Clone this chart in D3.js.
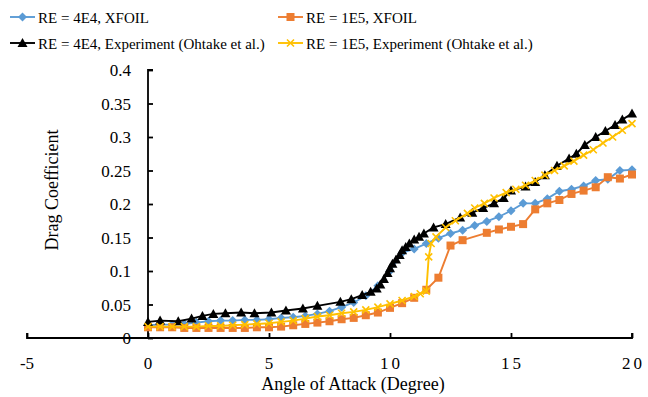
<!DOCTYPE html>
<html>
<head>
<meta charset="utf-8">
<script src="https://cdn.jsdelivr.net/npm/d3@7/dist/d3.min.js"></script>
<style>
  body { margin: 0; background: #fff; }
</style>
</head>
<body>
<div id="chart"></div>
<script>
const WIDTH = 648;
const HEIGHT = 397;
const FONT = '"Liberation Serif"';

// RE = 4E4, XFOIL
const xfoil4Alpha = [0, 0.5, 1, 1.5, 2, 2.5, 3, 3.5, 4, 4.5, 5, 5.5, 6, 6.5, 7, 7.5, 8, 8.5, 9, 9.5,
  10, 10.5, 11, 11.5, 12, 12.5, 13, 13.5, 14, 14.5, 15, 15.5, 16, 16.5, 17, 17.5, 18, 18.5, 19, 19.5, 20];
const xfoil4Cd = [0.019, 0.020, 0.020, 0.021, 0.023, 0.025, 0.026, 0.026, 0.027, 0.027, 0.028, 0.030,
  0.031, 0.033, 0.036, 0.040, 0.046, 0.053, 0.063, 0.078, 0.100, 0.127, 0.133, 0.141, 0.149, 0.156,
  0.161, 0.168, 0.174, 0.181, 0.190, 0.201, 0.201, 0.208, 0.219, 0.222, 0.227, 0.235, 0.237, 0.250, 0.251];

// RE = 1E5, XFOIL (no point at 13.5)
const xfoil1Alpha = [0, 0.5, 1, 1.5, 2, 2.5, 3, 3.5, 4, 4.5, 5, 5.5, 6, 6.5, 7, 7.5, 8, 8.5, 9, 9.5,
  10, 10.5, 11, 11.5, 12, 12.5, 13, 14, 14.5, 15, 15.5, 16, 16.5, 17, 17.5, 18, 18.5, 19, 19.5, 20];
const xfoil1Cd = [0.016, 0.016, 0.016, 0.015, 0.015, 0.015, 0.015, 0.015, 0.015, 0.016, 0.016, 0.017,
  0.019, 0.021, 0.023, 0.025, 0.028, 0.030, 0.034, 0.038, 0.045, 0.052, 0.060, 0.072, 0.090, 0.138,
  0.146, 0.157, 0.162, 0.166, 0.170, 0.192, 0.201, 0.206, 0.215, 0.220, 0.225, 0.240, 0.238, 0.244];

// RE = 4E4, Experiment (Ohtake et al.)
const exp4Alpha = [0, 0.5, 1.25, 1.8, 2.25, 2.7, 3.2, 3.85, 4.4, 5.1, 5.7, 6.4, 7.0, 7.95, 8.4, 8.85,
  9.2, 9.45, 9.6, 9.75, 9.9, 10.0, 10.1, 10.25, 10.4, 10.5, 10.65, 10.8, 11.0, 11.2, 11.4, 11.8, 12.3,
  12.9, 13.4, 13.85, 14.3, 14.7, 15.0, 15.6, 16.0, 16.4, 16.9, 17.4, 17.7, 18.05, 18.5, 18.9, 19.3, 19.6, 20.0];
const exp4Cd = [0.024, 0.026, 0.025, 0.029, 0.033, 0.036, 0.037, 0.038, 0.037, 0.038, 0.041, 0.044,
  0.048, 0.054, 0.058, 0.064, 0.069, 0.074, 0.080, 0.088, 0.097, 0.104, 0.111, 0.117, 0.124, 0.131,
  0.136, 0.141, 0.147, 0.151, 0.156, 0.165, 0.170, 0.180, 0.187, 0.194, 0.201, 0.209, 0.220, 0.226,
  0.233, 0.243, 0.257, 0.268, 0.275, 0.288, 0.300, 0.309, 0.318, 0.326, 0.335];

// RE = 1E5, Experiment (Ohtake et al.)
const exp1Alpha = [0, 0.5, 1, 1.5, 2, 2.5, 3, 3.5, 4, 4.5, 5, 5.5, 6, 6.5, 7, 7.5, 8, 8.5, 9, 9.5,
  10, 10.5, 11, 11.25, 11.5, 11.6, 11.7, 11.9, 12.3, 12.7, 13.2, 13.5, 13.9, 14.3, 14.8, 15.2, 15.6,
  16.0, 16.4, 16.8, 17.2, 17.6, 18.0, 18.4, 18.8, 19.2, 19.6, 20.0];
const exp1Cd = [0.017, 0.017, 0.017, 0.017, 0.017, 0.018, 0.018, 0.019, 0.020, 0.021, 0.022, 0.024,
  0.026, 0.029, 0.032, 0.034, 0.037, 0.039, 0.042, 0.046, 0.051, 0.056, 0.062, 0.066, 0.070, 0.121,
  0.141, 0.151, 0.165, 0.175, 0.186, 0.194, 0.201, 0.209, 0.217, 0.222, 0.228, 0.235, 0.243, 0.250,
  0.257, 0.264, 0.273, 0.281, 0.291, 0.300, 0.310, 0.320];

const xTicks = [-5, 0, 5, 10, 15, 20];
const yTicks = [0, 0.05, 0.1, 0.15, 0.2, 0.25, 0.3, 0.35, 0.4];

const series = [
  { name: "RE = 4E4, XFOIL", alpha: xfoil4Alpha, cd: xfoil4Cd, color: "#5B9BD5", marker: "diamond" },
  { name: "RE = 1E5, XFOIL", alpha: xfoil1Alpha, cd: xfoil1Cd, color: "#ED7D31", marker: "square" },
  { name: "RE = 4E4, Experiment (Ohtake et al.)", alpha: exp4Alpha, cd: exp4Cd, color: "#000000", marker: "triangle" },
  { name: "RE = 1E5, Experiment (Ohtake et al.)", alpha: exp1Alpha, cd: exp1Cd, color: "#FFC000", marker: "cross" },
];

const x = d3.scaleLinear().domain([-5, 20]).range([27, 632]);
const y = d3.scaleLinear().domain([0, 0.4]).range([338, 70]);

const svg = d3.select("#chart")
  .append("svg")
  .attr("width", WIDTH)
  .attr("height", HEIGHT);

const line = d3.line()
  .x((d) => x(d[0]))
  .y((d) => y(d[1]));

function drawMarker(g, type, color) {
  if (type === "diamond") {
    g.append("path").attr("d", "M0,-4.5L4.5,0L0,4.5L-4.5,0Z").attr("fill", color);
  } else if (type === "square") {
    g.append("rect").attr("x", -4).attr("y", -4).attr("width", 8).attr("height", 8).attr("fill", color);
  } else if (type === "triangle") {
    g.append("path").attr("d", "M0,-5L5,4L-5,4Z").attr("fill", color);
  } else {
    g.append("path").attr("d", "M-3.5,-3.5L3.5,3.5M-3.5,3.5L3.5,-3.5")
      .attr("stroke", color).attr("stroke-width", 1.6).attr("fill", "none");
  }
}

// axes
const xAxis = svg.append("g").attr("transform", `translate(0,${y(0)})`)
  .call(d3.axisTop(x).tickValues(xTicks).tickSize(5).tickFormat(""));
xAxis.select(".domain").attr("d", `M${x(-5)},-5V0H${x(20)}V-5`);
xAxis.selectAll("line, path").attr("stroke", "#000").attr("stroke-width", 1.8);

const yAxis = svg.append("g").attr("transform", `translate(${x(0)},0)`)
  .call(d3.axisRight(y).tickValues(yTicks).tickSize(5).tickFormat(""));
yAxis.select(".domain").attr("d", `M5,${y(0.4)}H0V${y(0)}`);
yAxis.selectAll("line, path").attr("stroke", "#000").attr("stroke-width", 1.8);

svg.append("g").selectAll("text")
  .data(xTicks)
  .join("text")
  .style("font-family", FONT)
  .attr("x", (d) => x(d) + (Math.abs(d) >= 10 ? 1.5 : 0))
  .attr("y", 369)
  .attr("text-anchor", "middle")
  .attr("font-size", 17)
  .attr("letter-spacing", (d) => (Math.abs(d) >= 10 ? "3px" : "0px"))
  .text((d) => d);

svg.append("g").selectAll("text")
  .data(yTicks)
  .join("text")
  .style("font-family", FONT)
  .attr("x", 131)
  .attr("y", (d) => y(d) + 6)
  .attr("text-anchor", "end")
  .attr("font-size", 17)
  .text((d) => d);

// series
series.forEach((s) => {
  const pts = s.alpha.map((a, i) => [a, s.cd[i]]);
  svg.append("path")
    .datum(pts)
    .attr("d", line)
    .attr("fill", "none")
    .attr("stroke", s.color)
    .attr("stroke-width", 1.9);
  svg.append("g").selectAll("g")
    .data(pts)
    .join("g")
    .attr("transform", (d) => `translate(${x(d[0])},${y(d[1])})`)
    .each(function () { drawMarker(d3.select(this), s.marker, s.color); });
});

// axis titles
svg.append("text")
  .style("font-family", FONT)
  .attr("x", 353).attr("y", 390)
  .attr("text-anchor", "middle")
  .attr("font-size", 18)
  .text("Angle of Attack (Degree)");

svg.append("text")
  .style("font-family", FONT)
  .attr("transform", "translate(58,190) rotate(-90)")
  .attr("text-anchor", "middle")
  .attr("font-size", 18)
  .text("Drag Coefficient");

// legend
const legendPos = [[10, 17], [278, 17], [10, 43], [278, 43]];
series.forEach((s, i) => {
  const [lx, ly] = legendPos[i];
  const g = svg.append("g").attr("transform", `translate(${lx},${ly})`);
  g.append("line").attr("x1", 0).attr("x2", 25).attr("stroke", s.color).attr("stroke-width", 1.9);
  drawMarker(g.append("g").attr("transform", "translate(12.5,0)"), s.marker, s.color);
  g.append("text").style("font-family", FONT)
    .attr("x", 28).attr("y", 5.5).attr("font-size", 15).text(s.name);
});
</script>
</body>
</html>
